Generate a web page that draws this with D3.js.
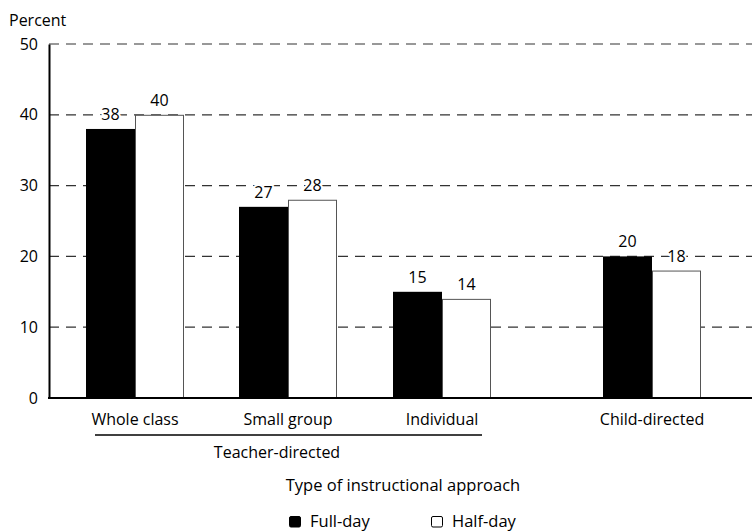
<!DOCTYPE html>
<html>
<head>
<meta charset="utf-8">
<script src="https://cdnjs.cloudflare.com/ajax/libs/d3/7.8.5/d3.min.js"></script>
<style>
  body { margin: 0; background: #fff; }
  text { font-family: "Open Sans", "Noto Sans", sans-serif; fill: #000; }
</style>
</head>
<body>
<div id="chart"></div>
<script>
// data
var categories = ["Whole class", "Small group", "Individual", "Child-directed"];
var fullDay = [38, 27, 15, 20];
var halfDay = [40, 28, 14, 18];
var seriesNames = ["Full-day", "Half-day"];
var yTicks = [0, 10, 20, 30, 40, 50];
var teacherGroup = ["Whole class", "Small group", "Individual"];

var width = 755, height = 531;

var svg = d3.select("#chart").append("svg")
  .attr("width", width)
  .attr("height", height);

// y scale
var y = d3.scaleLinear()
  .domain([0, 50])
  .range([398, 44]);

// group centres (child-directed sits further off to the right)
var x = d3.scaleOrdinal()
  .domain(categories)
  .range([135, 288, 442, 652]);

var barW = 49;

// dashed gridlines
svg.append("g")
  .selectAll("line")
  .data(yTicks.filter(function(d) { return d > 0; }))
  .enter().append("line")
  .attr("x1", 49)
  .attr("x2", 752)
  .attr("y1", function(d) { return y(d); })
  .attr("y2", function(d) { return y(d); })
  .attr("stroke", "#333")
  .attr("stroke-width", 1.2)
  .attr("stroke-dasharray", "10,7");

// bars
var rows = categories.map(function(c, i) {
  return { cat: c, full: fullDay[i], half: halfDay[i] };
});

var groups = svg.append("g")
  .selectAll("g")
  .data(rows)
  .enter().append("g");

groups.append("rect")
  .attr("x", function(d) { return x(d.cat) - barW; })
  .attr("y", function(d) { return y(d.full); })
  .attr("width", barW)
  .attr("height", function(d) { return y(0) - y(d.full); })
  .attr("fill", "#000");

groups.append("rect")
  .attr("x", function(d) { return x(d.cat) + 0.5; })
  .attr("y", function(d) { return y(d.half) + 0.5; })
  .attr("width", barW - 1)
  .attr("height", function(d) { return y(0) - y(d.half) - 0.5; })
  .attr("fill", "#fff")
  .attr("stroke", "#555")
  .attr("stroke-width", 1);

// value labels, white halo breaks the gridline behind them
groups.append("text")
  .attr("x", function(d) { return x(d.cat) - barW / 2; })
  .attr("y", function(d) { return y(d.full) - 9; })
  .attr("text-anchor", "middle")
  .style("font-size", "16px")
  .style("paint-order", "stroke")
  .style("stroke", "#fff")
  .style("stroke-width", "4px")
  .text(function(d) { return d.full; });

groups.append("text")
  .attr("x", function(d) { return x(d.cat) + barW / 2; })
  .attr("y", function(d) { return y(d.half) - 9; })
  .attr("text-anchor", "middle")
  .style("font-size", "16px")
  .style("paint-order", "stroke")
  .style("stroke", "#fff")
  .style("stroke-width", "4px")
  .text(function(d) { return d.half; });

// y axis
var yAxis = d3.axisLeft(y)
  .tickValues(yTicks)
  .tickSize(0)
  .tickPadding(11);

var yg = svg.append("g")
  .attr("transform", "translate(49,0)")
  .call(yAxis);
yg.select(".domain").attr("stroke", "#000").attr("stroke-width", 2);
yg.selectAll("text")
  .style("font-size", "16px")
  .style("font-family", "'Open Sans', 'Noto Sans', sans-serif")
  .attr("fill", "#000");

// baseline
svg.append("line")
  .attr("x1", 48)
  .attr("x2", 752)
  .attr("y1", y(0))
  .attr("y2", y(0))
  .attr("stroke", "#000")
  .attr("stroke-width", 2);

// category labels
svg.append("g")
  .selectAll("text")
  .data(categories)
  .enter().append("text")
  .attr("x", function(d) { return x(d); })
  .attr("y", 425)
  .attr("text-anchor", "middle")
  .style("font-size", "16px")
  .text(function(d) { return d; });

// teacher-directed bracket
svg.append("line")
  .attr("x1", x(teacherGroup[0]) - 40)
  .attr("x2", x(teacherGroup[teacherGroup.length - 1]) + 40)
  .attr("y1", 435)
  .attr("y2", 435)
  .attr("stroke", "#000")
  .attr("stroke-width", 1.5);

svg.append("text")
  .attr("x", 277)
  .attr("y", 458)
  .attr("text-anchor", "middle")
  .style("font-size", "16px")
  .text("Teacher-directed");

// axis titles
svg.append("text")
  .attr("x", 9)
  .attr("y", 26)
  .style("font-size", "16px")
  .text("Percent");

svg.append("text")
  .attr("x", 403)
  .attr("y", 491)
  .attr("text-anchor", "middle")
  .style("font-size", "16.5px")
  .text("Type of instructional approach");

// legend
var legendX = [289, 431];
var legend = svg.append("g")
  .selectAll("g")
  .data(seriesNames)
  .enter().append("g")
  .attr("transform", function(d, i) { return "translate(" + legendX[i] + ",516)"; });

legend.append("rect")
  .attr("x", 0.5)
  .attr("y", 0.5)
  .attr("width", 11)
  .attr("height", 10.5)
  .attr("rx", 1.5)
  .attr("fill", function(d, i) { return i === 0 ? "#000" : "#fff"; })
  .attr("stroke", "#000")
  .attr("stroke-width", 1);

legend.append("text")
  .attr("x", 21)
  .attr("y", 11)
  .style("font-size", "16.5px")
  .text(function(d) { return d; });
</script>
</body>
</html>
